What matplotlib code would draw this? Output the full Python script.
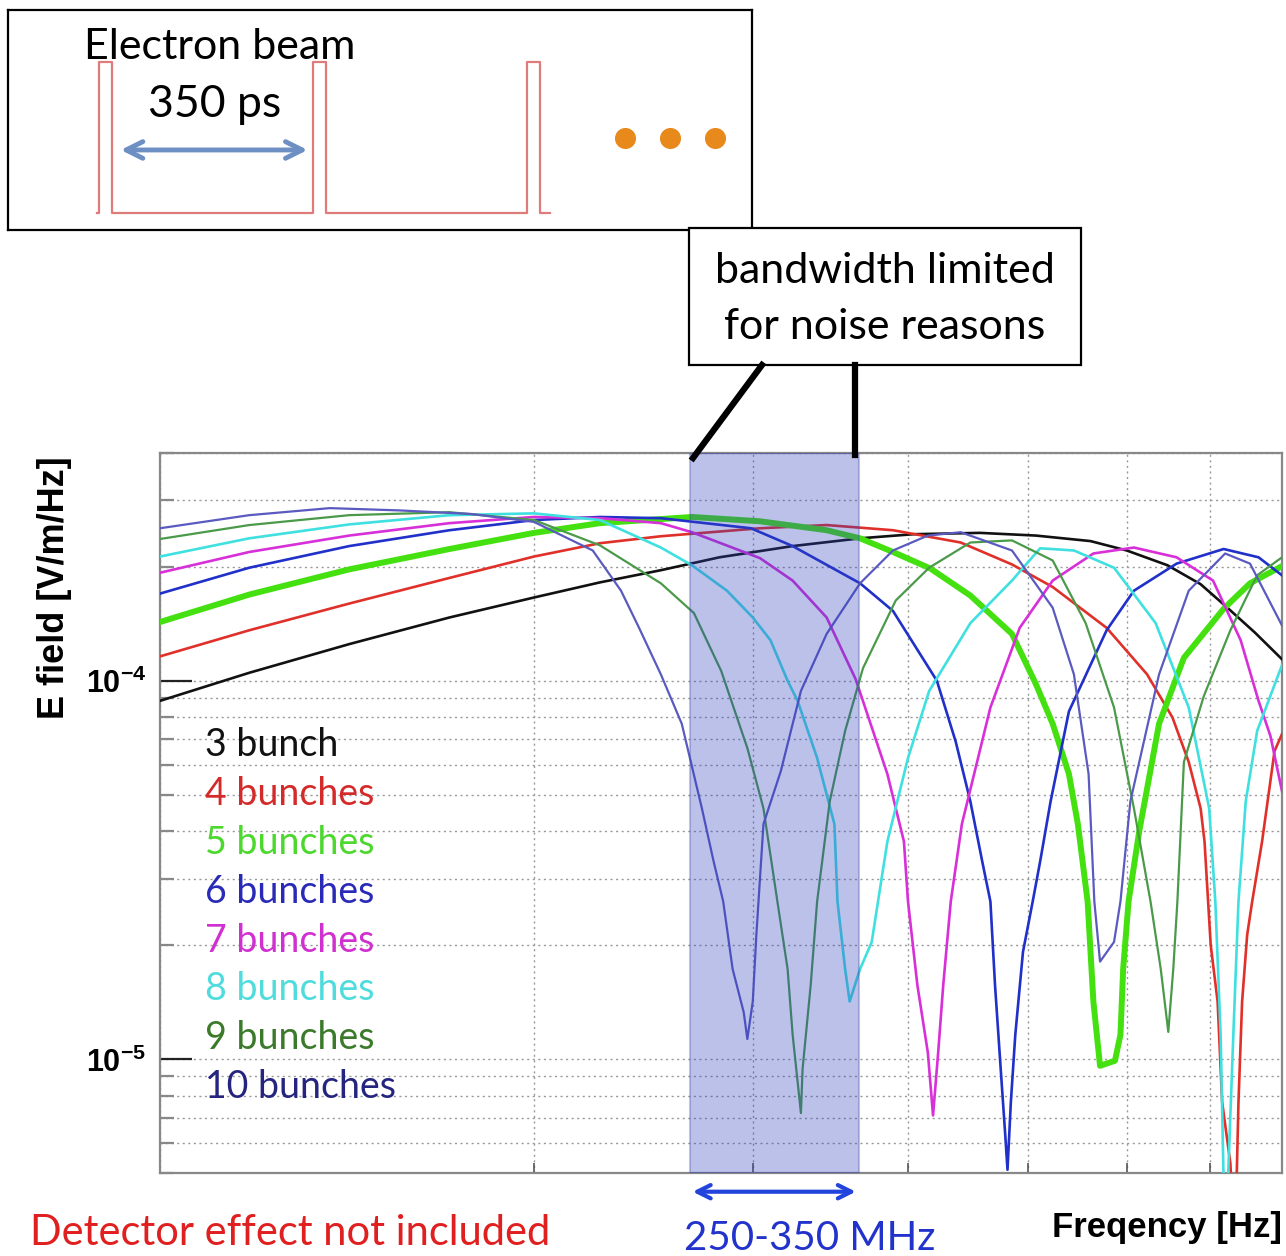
import numpy as np
import matplotlib
matplotlib.use('Agg')
import matplotlib.pyplot as plt
from matplotlib.patches import Rectangle
from matplotlib.lines import Line2D
from matplotlib.ticker import FixedLocator, NullFormatter

plt.rcParams['mathtext.fontset'] = 'custom'
plt.rcParams['mathtext.rm'] = 'Liberation Sans'
plt.rcParams['mathtext.bf'] = 'Liberation Sans:bold'

# # spectra: frequency in MHz, E field in 1e-4 V/m/Hz
f3 = [100, 118, 142, 171, 200, 226, 253, 282, 323, 366, 404, 457, 507, 561, 600, 647, 688, 723, 761, 800]
e3 = [0.885, 1.05, 1.25, 1.47, 1.66, 1.82, 1.96, 2.12, 2.27, 2.38, 2.44, 2.46, 2.42, 2.34, 2.21, 2.02, 1.80, 1.56, 1.34, 1.14]

f4 = [100, 118, 142, 171, 200, 226, 253, 304, 344, 389, 441, 485, 523, 578, 623, 653, 673, 688, 693, 701,
      710, 716, 727, 733, 738, 743, 750, 757, 771, 789, 800]
e4 = [1.16, 1.36, 1.60, 1.87, 2.13, 2.31, 2.41, 2.53, 2.58, 2.50, 2.32, 2.03, 1.77, 1.38, 1.04, 0.80, 0.61, 0.46, 0.376, 0.20,
      0.142, 0.077, 0.053, 0.03, 0.077, 0.142, 0.213, 0.261, 0.376, 0.652, 0.723]

f5 = [100, 118, 142, 171, 200, 226, 268, 304, 344, 366, 389, 417, 449, 485, 507, 523, 539, 548, 558, 564,
      571, 587, 593, 596, 602, 614, 637, 667, 718, 754, 800]
e5 = [1.43, 1.69, 1.97, 2.23, 2.46, 2.61, 2.71, 2.64, 2.50, 2.38, 2.19, 1.98, 1.68, 1.33, 0.98, 0.77, 0.567, 0.418, 0.261, 0.142,
      0.096, 0.099, 0.116, 0.173, 0.261, 0.40, 0.77, 1.15, 1.55, 1.81, 2.01]

f6 = [100, 118, 142, 171, 200, 226, 253, 299, 323, 366, 389, 422, 437, 449, 459, 466, 470, 475, 479, 481,
      484, 488, 495, 504, 511, 521, 539, 578, 608, 658, 718, 766, 800]
e6 = [1.70, 1.99, 2.27, 2.50, 2.66, 2.71, 2.69, 2.53, 2.27, 1.81, 1.53, 1.00, 0.69, 0.48, 0.333, 0.261, 0.157, 0.094, 0.063, 0.051,
      0.077, 0.116, 0.192, 0.261, 0.333, 0.48, 0.83, 1.36, 1.73, 2.04, 2.23, 2.12, 1.90]

f7 = [100, 118, 142, 171, 200, 226, 253, 268, 304, 323, 344, 363, 385, 397, 400, 407, 415, 419, 423, 427,
      433, 442, 466, 492, 523, 564, 608, 658, 704, 741, 766, 783, 800]
e7 = [1.93, 2.19, 2.42, 2.61, 2.71, 2.69, 2.61, 2.47, 2.11, 1.84, 1.47, 1.01, 0.567, 0.376, 0.261, 0.157, 0.104, 0.071, 0.104, 0.157,
      0.261, 0.418, 0.85, 1.38, 1.84, 2.17, 2.25, 2.12, 1.84, 1.28, 0.885, 0.715, 0.511]

f8 = [100, 118, 142, 171, 200, 226, 253, 268, 286, 300, 310, 320, 326, 338, 349, 351, 356, 359, 366, 374,
      385, 400, 416, 449, 485, 511, 544, 586, 633, 673, 699, 707, 714, 720, 731, 738, 748, 764, 800]
e8 = [2.13, 2.38, 2.59, 2.74, 2.77, 2.66, 2.25, 2.02, 1.73, 1.47, 1.28, 1.00, 0.885, 0.625, 0.418, 0.261, 0.173, 0.142, 0.173, 0.204,
      0.376, 0.625, 0.94, 1.42, 1.84, 2.24, 2.21, 1.99, 1.42, 0.85, 0.46, 0.261, 0.116, 0.03, 0.116, 0.261, 0.48, 0.737, 1.10]

f9 = [100, 118, 142, 171, 200, 226, 253, 269, 283, 297, 306, 314, 320, 323, 328, 329, 334, 338, 346, 356,
      368, 391, 416, 449, 485, 523, 556, 586, 608, 627, 639, 648, 654, 659, 667, 692, 727, 764, 800]
e9 = [2.37, 2.58, 2.74, 2.79, 2.66, 2.28, 1.81, 1.51, 1.06, 0.664, 0.46, 0.261, 0.173, 0.116, 0.072, 0.094, 0.157, 0.261, 0.48, 0.737,
      1.08, 1.63, 1.99, 2.32, 2.35, 2.08, 1.42, 0.85, 0.46, 0.261, 0.173, 0.118, 0.173, 0.261, 0.61, 0.91, 1.36, 1.90, 2.12]

f10 = [100, 118, 137, 156, 178, 200, 223, 235, 243, 253, 263, 273, 279, 284, 289, 295, 297, 300, 302, 306,
       316, 328, 344, 366, 389, 415, 441, 485, 523, 544, 559, 565, 571, 586, 593, 604, 637, 673, 720, 754, 800]
e10 = [2.53, 2.74, 2.86, 2.82, 2.76, 2.63, 2.21, 1.73, 1.38, 1.04, 0.77, 0.46, 0.333, 0.261, 0.173, 0.133, 0.113, 0.142, 0.213, 0.418,
       0.577, 0.94, 1.33, 1.81, 2.21, 2.42, 2.47, 2.21, 1.56, 1.04, 0.567, 0.261, 0.181, 0.204, 0.261, 0.48, 1.04, 1.73, 2.17, 2.04, 1.40]

freqs = [f3, f4, f5, f6, f7, f8, f9, f10]
fields = [e3, e4, e5, e6, e7, e8, e9, e10]
labels = ['3 bunch', '4 bunches', '5 bunches', '6 bunches', '7 bunches', '8 bunches', '9 bunches', '10 bunches']
line_colors = ['#111111', '#e0302a', '#44e010', '#2030c8', '#d830d8', '#40e0e0', '#4a9a4a', '#5a5ac0']
text_colors = ['#111111', '#d42a2a', '#4cd82c', '#2a2ab8', '#d030d0', '#50dcdc', '#3a7a2a', '#252580']
widths = [1.9, 1.9, 4.3, 1.9, 1.9, 1.9, 1.6, 1.6]

band_lo, band_hi = 267e6, 365e6   # shaded band, MHz labelled 250-350

# # bunch train sketch (ps)
bunch_times = [0, 350, 700]
pulse_width = 22

W, H = 1286, 1256
fig = plt.figure(figsize=(W / 100, H / 100), dpi=100)

def fx(px):
    return px / W

def fy(py):
    return 1 - py / H

# # main plot
ax = fig.add_axes([fx(160), fy(1173), (1282 - 160) / W, (1173 - 453) / H])
for f, e, c, lw in zip(freqs, fields, line_colors, widths):
    ax.plot(np.array(f) * 1e6, np.array(e) * 1e-4, color=c, lw=lw, zorder=3)

ax.set_xscale('log')
ax.set_yscale('log')
ax.set_xlim(100e6, 800e6)
ax.set_ylim(5e-6, 4e-4)

ax.axvspan(band_lo, band_hi, facecolor='#3040c0', alpha=0.32, edgecolor='#4050a0', lw=1.5, zorder=4)

ax.xaxis.set_major_locator(FixedLocator([1e8]))
ax.xaxis.set_minor_locator(FixedLocator([2e8, 3e8, 4e8, 5e8, 6e8, 7e8]))
ax.xaxis.set_major_formatter(NullFormatter())
ax.xaxis.set_minor_formatter(NullFormatter())
ax.set_yticks([1e-5, 1e-4], labels=[r'$\mathbf{10^{-5}}$', r'$\mathbf{10^{-4}}$'])
ax.yaxis.set_minor_locator(FixedLocator([m * 10.0**k for k in (-6, -5, -4) for m in range(2, 10)]))
ax.yaxis.set_minor_formatter(NullFormatter())

ax.grid(True, which='both', ls=(0, (1.5, 2.5)), color='#999999', lw=1.0, zorder=1)
ax.tick_params(axis='y', which='major', direction='in', length=23, width=1.6, color='#222222',
               labelsize=22, pad=10)
ax.tick_params(axis='y', which='minor', direction='in', length=10, width=1.6, color='#888888')
ax.tick_params(axis='x', which='major', length=0)
ax.tick_params(axis='x', which='minor', direction='in', length=7, width=1.2, color='#555555')
for s in ax.spines.values():
    s.set_color('#888888')
    s.set_linewidth(1.6)

for i, (lab, c) in enumerate(zip(labels, text_colors)):
    ax.text(0.040, 0.594 - i * 0.0678, lab, transform=ax.transAxes, color=c, fontsize=27,
            family='Lato', va='center', ha='left', zorder=5)

ax.annotate('', xy=(band_hi, -0.026), xytext=(band_lo, -0.026), xycoords=('data', 'axes fraction'),
            textcoords=('data', 'axes fraction'), annotation_clip=False,
            arrowprops=dict(arrowstyle='<->', color='#2244dd', lw=3, mutation_scale=24))

fig.text(fx(55), fy(588), 'E field [V/m/Hz]', rotation=90, ha='center', va='center',
         fontsize=26, fontweight='bold', family='Liberation Sans')
fig.text(fx(1282), fy(1228), 'Freqency [Hz]', ha='right', va='center', fontsize=25,
         fontweight='bold', family='Liberation Sans')
fig.text(fx(30), fy(1233), 'Detector effect not included', ha='left', va='center', fontsize=30,
         color='#e02020', family='Lato')
fig.text(fx(810), fy(1238), '250-350 MHz', ha='center', va='center', fontsize=29,
         color='#2233cc', family='Lato')

# # electron beam inset
ax2 = fig.add_axes([fx(8), fy(230), (752 - 8) / W, (230 - 10) / H])
t = [-4]
a = [0]
for tb in bunch_times:
    t += [tb, tb, tb + pulse_width, tb + pulse_width]
    a += [0, 1, 1, 0]
t.append(738)
a.append(0)
ax2.plot(t, a, color='#e07b7b', lw=1.6)
ax2.set_xlim(-149, 1069)
ax2.set_ylim(-0.113, 1.344)
ax2.set_xticks([])
ax2.set_yticks([])
for s in ax2.spines.values():
    s.set_linewidth(1.6)
    s.set_color('black')
ax2.annotate('', xy=(346, 0.417), xytext=(31, 0.417),
             arrowprops=dict(arrowstyle='<->', color='#6d8fc4', lw=3.5, mutation_scale=30))
ax2.text(198, 1.10, 'Electron beam', ha='center', va='center', fontsize=31, family='Lato')
ax2.text(190, 0.72, '350 ps', ha='center', va='center', fontsize=32, family='Lato')
ax2.scatter([861, 935, 1008], [0.497] * 3, s=200, color='#e8891c', zorder=3)

# # bandwidth box
fig.patches.append(Rectangle((fx(689), fy(365)), (1081 - 689) / W, (365 - 228) / H,
                             transform=fig.transFigure, facecolor='white', edgecolor='black', lw=1.6))
fig.text(fx(885), fy(271), 'bandwidth limited', ha='center', va='center', fontsize=31, family='Lato')
fig.text(fx(885), fy(327), 'for noise reasons', ha='center', va='center', fontsize=31, family='Lato')
fig.lines.append(Line2D([fx(762), fx(693)], [fy(365), fy(458)], transform=fig.transFigure,
                        color='black', lw=4.5))
fig.lines.append(Line2D([fx(855), fx(855)], [fy(365), fy(455)], transform=fig.transFigure,
                        color='black', lw=4.5))

fig.savefig('out.png', dpi=100)
